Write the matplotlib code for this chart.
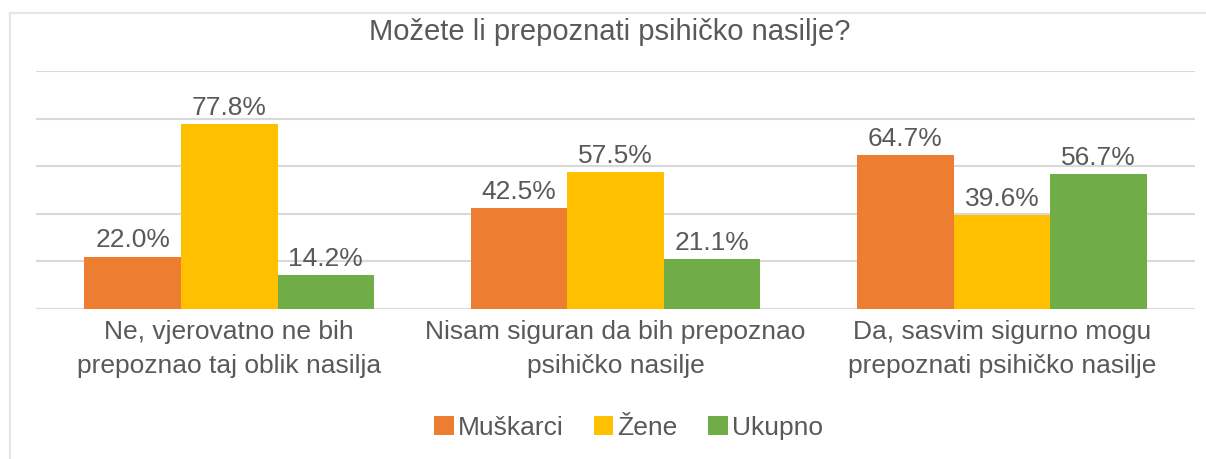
import matplotlib.pyplot as plt
import numpy as np
from matplotlib.lines import Line2D

# Survey answers per group, share of respondents in %
categories = [
    "Ne, vjerovatno ne bih\nprepoznao taj oblik nasilja",
    "Nisam siguran da bih prepoznao\npsihičko nasilje",
    "Da, sasvim sigurno mogu\nprepoznati psihičko nasilje",
]
series_names = ["Muškarci", "Žene", "Ukupno"]
muskarci = [22.0, 42.5, 64.7]
zene = [77.8, 57.5, 39.6]
ukupno = [14.2, 21.1, 56.7]
colors = ["#ED7D31", "#FFC000", "#70AD47"]

TEXT = "#595959"
GRID = "#D9D9D9"
FS = 19

plt.rcParams["font.family"] = ["Liberation Sans", "DejaVu Sans"]

fig = plt.figure(figsize=(12.06, 4.59), dpi=100)
ax = fig.add_axes([0.0299, 0.3268, 0.961, 0.5185])

# frame edges: top and left only
fig.lines.append(Line2D([0.008, 1.0], [0.972, 0.972], transform=fig.transFigure,
                        color="#E6E6E6", linewidth=1.5))
fig.lines.append(Line2D([0.008, 0.008], [0.0, 0.972], transform=fig.transFigure,
                        color="#E6E6E6", linewidth=1.5))

x = np.arange(len(categories))
width = 0.25
for i, (vals, name) in enumerate(zip([muskarci, zene, ukupno], series_names)):
    bars = ax.bar(x + (i - 1) * width, vals, width, color=colors[i], label=name, zorder=3)
    ax.bar_label(bars, labels=[f"{v:.1f}%" for v in vals], padding=3,
                 fontsize=FS, color=TEXT)

ax.set_xlim(-0.5, 2.5)
ax.set_ylim(0, 100)
ax.set_yticks(np.arange(0, 101, 20))
ax.yaxis.grid(True, color=GRID, linewidth=1.5, zorder=0)
ax.tick_params(axis="y", left=False, labelleft=False)
ax.tick_params(axis="x", length=0, pad=8, labelsize=FS, labelcolor=TEXT)
ax.set_xticks(x)
ax.set_xticklabels(categories, linespacing=1.5)
for s in ax.spines.values():
    s.set_visible(False)

fig.text(0.506, 0.93, "Možete li prepoznati psihičko nasilje?", ha="center", va="center",
         fontsize=21, color=TEXT)

fig.legend(loc="center", bbox_to_anchor=(0.521, 0.068), ncol=3, frameon=False,
           fontsize=FS, labelcolor=TEXT, handlelength=0.75, handleheight=0.75,
           handletextpad=0.15, columnspacing=1.15)

fig.savefig("out.png", dpi=100)
